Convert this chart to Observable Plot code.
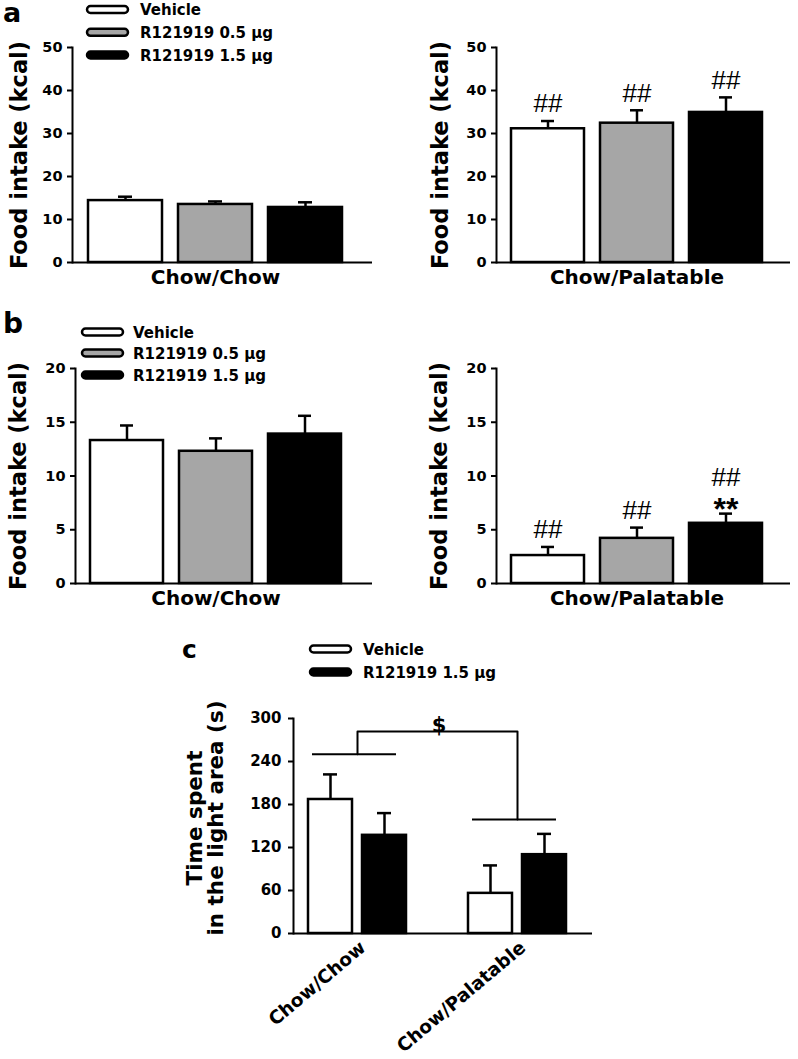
<!DOCTYPE html>
<html><head><meta charset="utf-8">
<script src="https://cdn.jsdelivr.net/npm/d3@7"></script>
<script src="https://cdn.jsdelivr.net/npm/@observablehq/plot@0.6"></script>
<style>
body{margin:0;background:#fff;}
#fig{position:relative;width:798px;height:1059px;overflow:hidden;background:#fff;}
</style></head><body><div id="fig"></div>
<script>
// ---- data ----
const doses = ["Vehicle", "R121919 0.5 μg", "R121919 1.5 μg"];
const doseFill = ["#ffffff", "#a6a6a6", "#000000"];
const groups = ["Chow/Chow", "Chow/Palatable"];
const yLabelFood = "Food intake (kcal)";
// panel a (kcal)
const aChowMean = [14.4, 13.5, 12.8];
const aChowSem = [0.9, 0.7, 1.2];
const aPalMean = [31.1, 32.4, 34.9];
const aPalSem = [1.8, 3.0, 3.5];
const aPalHash = ["##", "##", "##"];
// panel b (kcal)
const bChowMean = [13.3, 12.3, 13.9];
const bChowSem = [1.4, 1.2, 1.7];
const bPalMean = [2.6, 4.2, 5.6];
const bPalSem = [0.8, 1.0, 0.9];
const bPalHash = ["##", "##", "##"];
const bPalStar = ["", "", "**"];
// panel c (s)
const cDoses = ["Vehicle", "R121919 1.5 μg"];
const cFill = ["#ffffff", "#000000"];
const cChowMean = [187, 137];
const cChowSem = [35, 31];
const cPalMean = [56, 110];
const cPalSem = [39, 29];
const cBracketY = [250, 282, 159]; // Chow/Chow level, top, Chow/Palatable level
const cSig = "$";
const cYLabel = "Time spent\nin the light area (s)";
// ticks
const yTicksA = [0, 10, 20, 30, 40, 50];
const yTicksB = [0, 5, 10, 15, 20];
const yTicksC = [0, 60, 120, 180, 240, 300];

// ---- drawing ----
const fig = document.getElementById("fig");
const FONT = "'DejaVu Sans', Verdana, sans-serif";
const HASHFONT = "'Liberation Sans', Arial, sans-serif";
const STYLE = {fontFamily: FONT, color: "#000", background: "transparent", overflow: "visible"};
function place(el, left, top) {
  el.style.position = "absolute"; el.style.left = left + "px"; el.style.top = top + "px";
  fig.appendChild(el);
}

function foodPanel(o) {
  const rows = doses.map((d, i) => ({
    dose: d, mean: o.means[i], top: o.means[i] + o.sems[i],
    hash: o.hash ? o.hash[i] : "", star: o.star ? o.star[i] : ""
  }));
  const p = Plot.plot({
    width: o.width, height: o.height,
    marginLeft: o.mL, marginRight: o.mR, marginTop: o.mT, marginBottom: o.mB,
    style: STYLE,
    x: {type: "band", domain: doses, range: o.xr, paddingInner: 0.18, paddingOuter: 0, axis: null},
    y: {domain: [0, o.yMax]},
    color: {domain: doses, range: doseFill},
    marks: [
      Plot.axisY({ticks: o.ticks, tickSize: 5, tickPadding: 5, fontSize: 14.5, fontWeight: "bold", label: null, strokeWidth: 2}),
      Plot.frame({anchor: "left", strokeWidth: 2}),
      Plot.ruleX(rows, {x: "dose", y1: "mean", y2: "top", strokeWidth: 2.5}),
      Plot.tickY(rows, {x: "dose", y: "top", strokeWidth: 2.5, insetLeft: 30, insetRight: 30}),
      Plot.barY(rows, {x: "dose", y: "mean", fill: "dose", stroke: "#000", strokeWidth: 2.5}),
      Plot.ruleY([0], {strokeWidth: 2}),
      Plot.text(rows, {filter: d => d.hash && !d.star, x: "dose", y: "top", text: "hash", dy: -17, fontSize: 26, fontFamily: HASHFONT}),
      Plot.text(rows, {filter: d => d.star, x: "dose", y: "top", text: "hash", dy: -36, fontSize: 26, fontFamily: HASHFONT}),
      Plot.text(rows, {filter: d => d.star, x: "dose", y: "top", text: "star", dy: -4, fontSize: 32, fontWeight: "bold", fontFamily: HASHFONT}),
      Plot.text([yLabelFood], {frameAnchor: "left", rotate: -90, textAnchor: "middle", dx: o.ldx, fontSize: 22.5, fontWeight: "bold"}),
      Plot.text([o.group], {x: () => doses[1], frameAnchor: "bottom", dy: 21, fontSize: 20, fontWeight: "bold"})
    ]
  });
  place(p, o.left, o.top);
}

foodPanel({left: 0, top: 0, width: 400, height: 300, mL: 72, mR: 28, mT: 47, mB: 38, xr: [87, 342],
  yMax: 50, ticks: yTicksA, means: aChowMean, sems: aChowSem, group: groups[0], ldx: -53});
foodPanel({left: 400, top: 0, width: 398, height: 300, mL: 96, mR: 8, mT: 47, mB: 38, xr: [110, 363],
  yMax: 50, ticks: yTicksA, means: aPalMean, sems: aPalSem, hash: aPalHash, group: groups[1], ldx: -56});
foodPanel({left: 0, top: 300, width: 400, height: 320, mL: 75, mR: 28, mT: 68, mB: 37, xr: [89, 342],
  yMax: 20, ticks: yTicksB, means: bChowMean, sems: bChowSem, group: groups[0], ldx: -57});
foodPanel({left: 400, top: 300, width: 398, height: 320, mL: 96, mR: 8, mT: 68, mB: 37, xr: [110, 363],
  yMax: 20, ticks: yTicksB, means: bPalMean, sems: bPalSem, hash: bPalHash, star: bPalStar, group: groups[1], ldx: -57});

// panel c
{
  const means = [cChowMean, cPalMean], sems = [cChowSem, cPalSem];
  const rows = [];
  groups.forEach((g, gi) => cDoses.forEach((d, di) => rows.push({group: g, dose: d, mean: means[gi][di], top: means[gi][di] + sems[gi][di]})));
  const doseMarks = cDoses.flatMap((d, di) => {
    const r = rows.filter(x => x.dose === d);
    const off = di === 0 ? -27 : 27;
    return [
      Plot.ruleX(r, {x: "group", y1: "mean", y2: "top", dx: off, strokeWidth: 2.5}),
      Plot.tickY(r, {x: "group", y: "top", dx: off, insetLeft: 42, insetRight: 42, strokeWidth: 2.5}),
      Plot.barY(r, {x: "group", y: "mean", fill: "dose", stroke: "#000", strokeWidth: 2.5,
        insetLeft: di === 0 ? 0 : 54, insetRight: di === 0 ? 54 : 0})
    ];
  });
  const bracket = [
    {group: groups[0], y: cBracketY[0]}, {group: groups[0], y: cBracketY[1]},
    {group: groups[1], y: cBracketY[1]}, {group: groups[1], y: cBracketY[2]}
  ];
  const sides = [{group: groups[0], y: cBracketY[0]}, {group: groups[1], y: cBracketY[2]}];
  const p = Plot.plot({
    width: 600, height: 439, marginLeft: 293, marginRight: 8, marginTop: 98, marginBottom: 126,
    style: STYLE,
    x: {type: "band", domain: groups, range: [307, 567], paddingInner: 0.385, paddingOuter: 0, axis: null},
    y: {domain: [0, 300]},
    color: {domain: cDoses, range: cFill},
    marks: [
      Plot.axisY({ticks: yTicksC, tickSize: 5, tickPadding: 7, fontSize: 15, fontWeight: "bold", label: null, strokeWidth: 2}),
      Plot.frame({anchor: "left", strokeWidth: 2}),
      ...doseMarks,
      Plot.ruleY([0], {strokeWidth: 2}),
      Plot.line(bracket, {x: "group", y: "y", strokeWidth: 2}),
      Plot.tickY(sides, {x: "group", y: "y", insetLeft: 4, insetRight: 10, strokeWidth: 2}),
      Plot.text([cSig], {frameAnchor: "top", dx: -4, dy: -1, fontSize: 21, fontWeight: "bold"}),
      Plot.text(groups, {x: d => d, text: d => d, frameAnchor: "bottom", rotate: -40, textAnchor: "end", lineAnchor: "top",
        dx: 1, dy: 6, fontSize: 18.5, fontWeight: "bold"}),
      Plot.text([cYLabel], {frameAnchor: "left", rotate: -90, textAnchor: "middle", dx: -88, dy: -8, fontSize: 21.5, fontWeight: "bold", lineHeight: 1.02})
    ]
  });
  place(p, 0, 620);
}

// overlay: panel letters and legends
{
  const svg = d3.create("svg").attr("width", 798).attr("height", 1059)
    .style("position", "absolute").style("left", "0px").style("top", "0px")
    .style("font-family", FONT).style("pointer-events", "none");
  const letters = [["a", 3, 22, 27], ["b", 3, 333, 28], ["c", 182, 658, 25]];
  for (const [t, x, y, s] of letters)
    svg.append("text").attr("x", x).attr("y", y).attr("font-size", s).attr("font-weight", "bold").text(t);
  function legend(x, ys, names, fills, tx) {
    names.forEach((n, i) => {
      svg.append("rect").attr("x", x).attr("y", ys[i] - 3.5).attr("width", 41).attr("height", 7).attr("rx", 3.5)
        .attr("fill", fills[i]).attr("stroke", "#000").attr("stroke-width", 2.5);
      svg.append("text").attr("x", tx).attr("y", ys[i] + 5.5).attr("font-size", 15).attr("font-weight", "bold").text(n);
    });
  }
  legend(87, [9.5, 32.3, 55], doses, doseFill, 140);
  legend(82, [332, 353, 375], doses, doseFill, 133);
  legend(310, [649, 672], cDoses, cFill, 363);
  fig.appendChild(svg.node());
}
</script></body></html>
